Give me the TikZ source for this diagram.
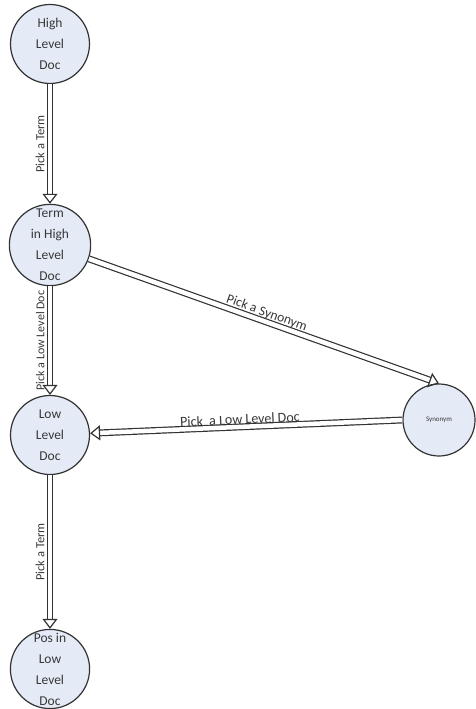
\documentclass[tikz,border=0pt]{standalone}
\usepackage{fontspec}
\setmainfont{Carlito}
\usetikzlibrary{arrows.meta}
\definecolor{nodefill}{RGB}{228,235,247}
\definecolor{edgegray}{RGB}{50,50,50}
\definecolor{textgray}{RGB}{55,55,55}
\begin{document}
\begin{tikzpicture}[x=1pt,y=-1pt,
  state/.style={circle, draw=edgegray, line width=1.2pt, fill=nodefill,
    minimum size=79pt, inner sep=0pt, align=center, text=textgray,
    font=\fontsize{13.5}{21}\selectfont},
  dbl/.style={draw=edgegray, line width=1.2pt, double=white, double distance=4.5pt,
    -{Triangle[open, length=10pt, width=15pt]}},
  lbl/.style={text=textgray, inner sep=1pt, font=\fontsize{12.5}{14}\selectfont}]
\useasboundingbox (0,0) rectangle (475,709);
\node[state] (h) at (50,44) {High\\Level\\Doc};
\node[state] (t) at (50,245) {Term\\in High\\Level\\Doc};
\node[state] (l) at (50,435) {Low\\Level\\Doc};
\node[state] (p) at (50,669) {Pos in\\Low\\Level\\Doc};
\node[state, minimum size=72pt, font=\fontsize{7}{8}\selectfont] (s) at (439,420) {Synonym};
\draw[dbl] (h) -- (t) node[midway, lbl, rotate=90, anchor=south, yshift=4pt] {Pick a Term};
\draw[dbl] (t) -- (l) node[midway, lbl, rotate=90, anchor=south, yshift=4pt, font=\fontsize{12}{14}\selectfont] {Pick a Low Level Doc};
\draw[dbl] (l) -- (p) node[midway, lbl, rotate=90, anchor=south, yshift=4pt] {Pick a Term};
\draw[dbl] (t) -- (s.north) node[midway, lbl, sloped, above, yshift=1pt, font=\fontsize{13.5}{15}\selectfont] {Pick a Synonym};
\draw[dbl] (s.west) -- (l) node[midway, lbl, sloped, above, yshift=1pt, xshift=-6pt, font=\fontsize{14}{16}\selectfont] {Pick\ \ a Low Level Doc};
\end{tikzpicture}
\end{document}
